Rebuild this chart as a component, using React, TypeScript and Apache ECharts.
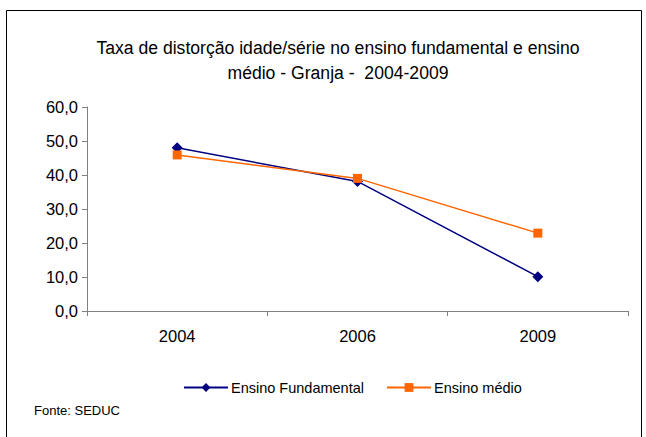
import React, { useEffect, useRef } from "react";
import * as echarts from "echarts";

const categories = ["2004", "2006", "2009"];
const fundamental = [48.0, 38.1, 10.1];
const medio = [45.9, 39.0, 22.9];
const seriesNames = ["Ensino Fundamental", "Ensino médio"];
const titleText = "Taxa de distorção idade/série no ensino fundamental e ensino\nmédio - Granja -  2004-2009";
const sourceText = "Fonte: SEDUC";

export default function App() {
  const ref = useRef<HTMLDivElement>(null);
  useEffect(() => {
    if (!ref.current) return;
    const chart = echarts.init(ref.current, null, { renderer: "svg" });
    const font = "'Liberation Sans', Arial, sans-serif";
    chart.setOption({
      animation: false,
      backgroundColor: "#ffffff",
      title: {
        text: titleText,
        left: 333,
        textAlign: "center",
        top: 30,
        textStyle: { fontFamily: font, fontSize: 17.6, fontWeight: "normal", color: "#000", lineHeight: 25 },
      },
      grid: { left: 87, right: 18, top: 107, bottom: 126 },
      xAxis: {
        type: "category",
        data: categories,
        boundaryGap: true,
        axisLine: { lineStyle: { color: "#808080", width: 1 } },
        axisTick: { show: true, length: 5, lineStyle: { color: "#808080" } },
        axisLabel: { fontFamily: font, fontSize: 16.5, color: "#000", margin: 16 },
        splitLine: { show: false },
      },
      yAxis: {
        type: "value",
        min: 0,
        max: 60,
        interval: 10,
        axisLine: { show: true, lineStyle: { color: "#808080", width: 1 } },
        axisTick: { show: true, length: 5, lineStyle: { color: "#808080" } },
        axisLabel: {
          fontFamily: font,
          fontSize: 16.5,
          color: "#000",
          margin: 9,
          formatter: (v: number) => v.toFixed(1).replace(".", ","),
        },
        splitLine: { show: false },
      },
      legend: {
        data: seriesNames,
        left: 178,
        top: 375,
        itemWidth: 44,
        itemHeight: 11,
        itemGap: 22,
        textStyle: { fontFamily: font, fontSize: 14.5, color: "#000", padding: [0, 0, 0, -2] },
      },
      series: [
        {
          name: seriesNames[0],
          type: "line",
          data: fundamental,
          symbol: "diamond",
          symbolSize: 11,
          itemStyle: { color: "#000080" },
          lineStyle: { color: "#000080", width: 1.5 },
        },
        {
          name: seriesNames[1],
          type: "line",
          data: medio,
          symbol: "rect",
          symbolSize: 9,
          itemStyle: { color: "#FF6600" },
          lineStyle: { color: "#FF6600", width: 1.5 },
        },
      ],
      graphic: [
        {
          type: "rect",
          shape: { x: 6.5, y: 10.5, width: 635, height: 440 },
          style: { fill: "none", stroke: "#000", lineWidth: 1 },
          silent: true,
        },
        {
          type: "text",
          left: 34,
          top: 404,
          style: { text: sourceText, font: `13px ${font}`, fill: "#000" },
        },
      ],
    });
    return () => chart.dispose();
  }, []);
  return (
    <div
      ref={ref}
      style={{ position: "fixed", left: 0, top: 0, width: 646, height: 437 }}
    />
  );
}
